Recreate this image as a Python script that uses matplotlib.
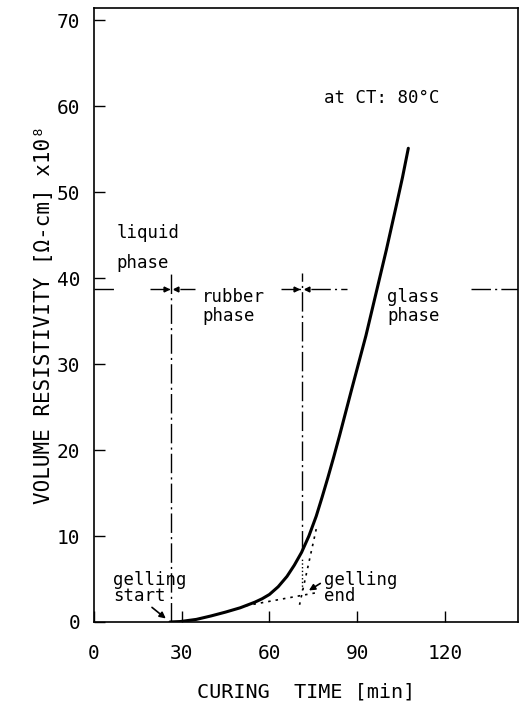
import matplotlib
matplotlib.use("Agg")
import matplotlib.pyplot as plt

plt.rcParams['font.family'] = ['DejaVu Sans Mono']

# curing curve
time_min = [26, 29.5, 35, 40, 45, 50, 55, 57.5, 60, 63, 66, 68.5, 71, 73.5, 76, 78,
            80, 82, 84, 88, 93, 96.5, 100, 103.3, 105.5, 107.5]
resist = [0, 0.05, 0.3, 0.7, 1.15, 1.65, 2.3, 2.7, 3.2, 4.1, 5.3, 6.6, 8.1, 10.0, 12.3, 14.5,
          16.8, 19.2, 21.7, 26.9, 33.3, 38.3, 43.3, 48.3, 51.7, 55.1]

# phase boundaries and tangent construction
gel_start = 26.3
gel_end = 71.0
phase_y = 38.7
phase_segments = [(0, 7.8), (19.3, 34.5), (63.8, 86.7), (129, 145)]
tangent_low_x = [52, 76]
tangent_low_y = [1.9, 3.4]
tangent_high_x = [70.3, 76]
tangent_high_y = [2.0, 10.8]

xticks = [0, 30, 60, 90, 120]
yticks = [0, 10, 20, 30, 40, 50, 60, 70]

fig = plt.figure(figsize=(5.28, 7.08), dpi=100)
ax = fig.add_axes([0.178, 0.1215, 0.803, 0.867])

ax.plot(time_min, resist, color='black', lw=2.2, solid_capstyle='round',
        solid_joinstyle='round')

dashdot = (0, (14, 3, 1.5, 3))
ax.plot([gel_start, gel_start], [0, 40.6], color='black', lw=1, ls=dashdot)
ax.plot([gel_end, gel_end], [8.4, 40.6], color='black', lw=1, ls=dashdot)
ax.plot([gel_end, gel_end], [3.7, 7.6], color='black', lw=1, ls=':')

for x0, x1 in phase_segments:
    ax.plot([x0, x1], [phase_y, phase_y], color='black', lw=1, ls=dashdot)
for xb in [gel_start, gel_end]:
    ax.plot([xb - 1.8], [phase_y], marker='>', ms=3.5, color='black')
    ax.plot([xb + 1.8], [phase_y], marker='<', ms=3.5, color='black')

ax.plot(tangent_low_x, tangent_low_y, color='black', lw=1.2, ls=(0, (1.5, 3)))
ax.plot(tangent_high_x, tangent_high_y, color='black', lw=1.2, ls=(0, (1.5, 3)))

txt = dict(fontsize=12.5, color='black', ha='left', va='center')
ax.text(78.8, 61, 'at CT: 80°C', **txt)
ax.text(7.8, 43.5, 'liquid\nphase', linespacing=1.9, **txt)
ax.text(36.9, 36.7, 'rubber\nphase', linespacing=1.1, **txt)
ax.text(100.3, 36.7, 'glass\nphase', linespacing=1.1, **txt)
ax.text(6.5, 4.0, 'gelling\nstart', linespacing=0.85, **txt)
ax.text(78.8, 4.0, 'gelling\nend', linespacing=0.85, **txt)

ax.annotate('', xy=(25.3, 0.2), xytext=(19.1, 1.9),
            arrowprops=dict(arrowstyle='-|>', color='black', lw=1.2, mutation_scale=9))
ax.annotate('', xy=(72.7, 3.5), xytext=(78.2, 4.65),
            arrowprops=dict(arrowstyle='-|>', color='black', lw=1.2, mutation_scale=9))

ax.set_xlim(0, 145)
ax.set_ylim(0, 71.4)
ax.set_xticks(xticks)
ax.set_yticks(yticks)
ax.tick_params(direction='in', length=8, width=1, labelsize=14)
ax.tick_params(axis='x', pad=16)
ax.tick_params(axis='y', pad=10)
for s in ax.spines.values():
    s.set_linewidth(1.2)

ax.set_xlabel('CURING  TIME [min]', fontsize=14.5, labelpad=14)
ax.set_ylabel('VOLUME RESISTIVITY [Ω-cm] x10⁸', fontsize=15, labelpad=2)

fig.savefig('out.png', dpi=100)
